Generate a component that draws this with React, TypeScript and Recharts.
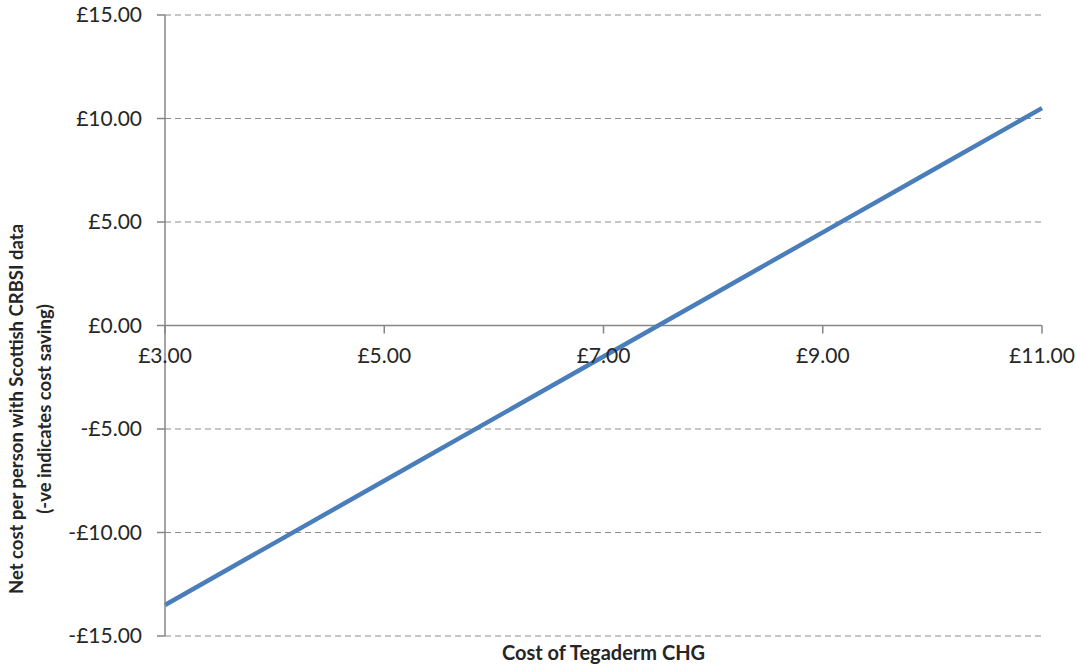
import React from "react";
import {
  LineChart,
  Line,
  XAxis,
  YAxis,
  CartesianGrid,
  ReferenceLine,
  Label,
} from "recharts";

const costs = [3, 4, 5, 6, 7, 8, 9, 10, 11];
const netCost = [-13.5, -10.5, -7.5, -4.5, -1.5, 1.5, 4.5, 7.5, 10.5];
const xTicks = [3, 5, 7, 9, 11];
const yTicks = [-15, -10, -5, 0, 5, 10, 15];
const yLabelLines = [
  "Net cost per person  with Scottish CRBSI data",
  "(-ve indicates cost saving)",
];
const xLabel = "Cost of Tegaderm CHG";

const data = costs.map((c, i) => ({ cost: c, net: netCost[i] }));

const W = 1077;
const H = 664;
const X_AXIS_H = 28;
const M = { top: 15, right: 35, bottom: 0, left: 0 };
const Y_AXIS_W = 165;
const Y_MIN = -15;
const Y_MAX = 15;
const FONT = "Lato, 'Open Sans', sans-serif";
const AXIS = "#868686";
const TEXT = "#262626";

const money = (v: number) =>
  (v < 0 ? "-" : "") + "£" + Math.abs(v).toFixed(2);

const plotTop = M.top;
const plotBottom = H - M.bottom - X_AXIS_H;
const zeroY = plotTop + ((plotBottom - plotTop) * (Y_MAX - 0)) / (Y_MAX - Y_MIN);

const XTick = (props: any) => {
  const { x, payload } = props;
  return (
    <g>
      <line x1={x} x2={x} y1={zeroY} y2={zeroY + 8} stroke={AXIS} strokeWidth={1.5} />
      <text
        x={x}
        y={zeroY + 37}
        textAnchor="middle"
        fill={TEXT}
        fontSize={21}
        fontFamily={FONT}
      >
        {money(payload.value)}
      </text>
    </g>
  );
};

const YLabel = () => (
  <g>
    {yLabelLines.map((t, i) => (
      <text
        key={i}
        x={0}
        y={0}
        transform={`translate(${23 + i * 28}, 409) rotate(-90)`}
        textAnchor="middle"
        fill={TEXT}
        fontSize={18.5}
        fontWeight="bold"
        fontFamily={FONT}
      >
        {t}
      </text>
    ))}
  </g>
);

export default function App() {
  return (
    <div>
      <style>{`body{margin:0}`}</style>
      <LineChart width={W} height={H} data={data} margin={M}>
        <CartesianGrid
          vertical={false}
          stroke="#8c8c8c"
          strokeDasharray="6 4"
          strokeWidth={1}
        />
        <XAxis
          dataKey="cost"
          type="number"
          domain={[3, 11]}
          ticks={xTicks}
          axisLine={false}
          tickLine={false}
          tick={<XTick />}
          height={X_AXIS_H}
          interval={0}
        >
          <Label
            value={xLabel}
            position="insideBottom"
            offset={0}
            dy={-4}
            fill={TEXT}
            fontSize={20}
            fontWeight="bold"
            fontFamily={FONT}
          />
        </XAxis>
        <YAxis
          type="number"
          domain={[Y_MIN, Y_MAX]}
          ticks={yTicks}
          tickFormatter={money}
          width={Y_AXIS_W}
          axisLine={{ stroke: AXIS, strokeWidth: 1.5 }}
          tickLine={{ stroke: AXIS, strokeWidth: 1.5 }}
          tickSize={8}
          tickMargin={15}
          tick={{ fill: TEXT, fontSize: 21, fontFamily: FONT }}
          interval={0}
          label={<YLabel />}
        />
        <ReferenceLine y={0} stroke={AXIS} strokeWidth={1.5} />
        <Line
          type="linear"
          dataKey="net"
          stroke="#4a7ebb"
          strokeWidth={4.5}
          dot={false}
          isAnimationActive={false}
        />
      </LineChart>
    </div>
  );
}
